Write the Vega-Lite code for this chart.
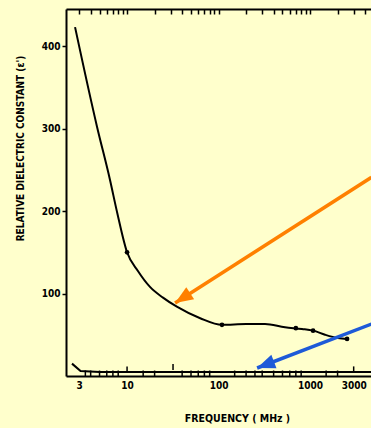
{
  "$schema": "https://vega.github.io/schema/vega-lite/v6.json",
  "width": 305,
  "height": 367,
  "autosize": {"type": "none"},
  "padding": {"left": 66, "top": 9, "right": 0, "bottom": 52},
  "background": "#FFFFCC",
  "config": {"view": {"stroke": null}, "font": "DejaVu Sans Condensed"},
  "datasets": {
    "main": [
      {"f": 2.7, "v": 423}, {"f": 4.7, "v": 302}, {"f": 6.5, "v": 238}, {"f": 7.8, "v": 198},
      {"f": 10, "v": 150}, {"f": 13.2, "v": 127}, {"f": 17.8, "v": 108}, {"f": 24.7, "v": 95}, {"f": 35, "v": 84}, {"f": 63, "v": 70},
      {"f": 109, "v": 62}, {"f": 200, "v": 63}, {"f": 322, "v": 63}, {"f": 533, "v": 59},
      {"f": 818, "v": 57}, {"f": 1080, "v": 55}, {"f": 1460, "v": 50}, {"f": 2020, "v": 46},
      {"f": 2540, "v": 45}
    ],
    "mainPts": [
      {"f": 10, "v": 150}, {"f": 109, "v": 62}, {"f": 700, "v": 58}, {"f": 1080, "v": 55}, {"f": 2540, "v": 45}
    ],
    "lower": [
      {"f": 2.5, "v": 15}, {"f": 3.1, "v": 6}, {"f": 5, "v": 5}, {"f": 10, "v": 5}, {"f": 100, "v": 5},
      {"f": 1000, "v": 5}, {"f": 4700, "v": 5}
    ],
    "lowerTicks": [
      {"f": 3.5, "v": 3}, {"f": 4, "v": 3}, {"f": 5, "v": 3}, {"f": 6, "v": 3}, {"f": 7, "v": 3},
      {"f": 8, "v": 3}, {"f": 10, "v": 8}, {"f": 15, "v": 3}, {"f": 20, "v": 3}, {"f": 31.8, "v": 11},
      {"f": 40, "v": 3}, {"f": 50, "v": 3}, {"f": 60, "v": 3}, {"f": 70, "v": 3}, {"f": 80, "v": 3},
      {"f": 150, "v": 3}, {"f": 200, "v": 3}, {"f": 250, "v": 3}, {"f": 300, "v": 3}, {"f": 400, "v": 3},
      {"f": 500, "v": 3}, {"f": 600, "v": 3}, {"f": 700, "v": 3}, {"f": 800, "v": 3}, {"f": 1500, "v": 3},
      {"f": 2000, "v": 3}, {"f": 3000, "v": 8}
    ],
    "arrows": [
      {"arrow": "orange", "f": 4700, "v": 241, "f2": 33.5, "v2": 88.5},
      {"arrow": "blue", "f": 4700, "v": 63, "f2": 264, "v2": 9.7}
    ]
  },
  "layer": [
    {
      "data": {"name": "main"},
      "mark": {"type": "line", "color": "black", "strokeWidth": 2, "interpolate": "monotone", "clip": true},
      "encoding": {
        "x": {"field": "f", "type": "quantitative",
          "scale": {"type": "log", "domain": [2.15, 4640], "nice": false},
          "axis": {"orient": "bottom", "values": [3, 10, 100, 1000, 3000], "format": "d", "grid": false,
            "domainColor": "black", "domainWidth": 2, "tickSize": 0, "labelPadding": 4,
            "labelFontSize": 10, "labelFontWeight": "bold", "labelColor": "black",
            "title": "FREQUENCY ( MHz )", "titleFontSize": 10.5, "titleFontWeight": "bold", "titleColor": "black",
            "titleX": 171, "titleY": 42, "titleBaseline": "middle"}},
        "y": {"field": "v", "type": "quantitative",
          "scale": {"domain": [0, 445], "nice": false},
          "axis": {"values": [100, 200, 300, 400], "grid": false,
            "domainColor": "black", "domainWidth": 2, "tickColor": "black", "tickSize": 4, "tickWidth": 1.5,
            "labelPadding": 2, "labelFontSize": 10, "labelFontWeight": "bold", "labelColor": "black",
            "title": "RELATIVE DIELECTRIC CONSTANT (ε')", "titleFontSize": 10, "titleFontWeight": "bold", "titleColor": "black",
            "titleX": -46, "titleY": 139, "titleAngle": -90, "titleBaseline": "middle", "titleAlign": "center"}}
      }
    },
    {
      "data": {"name": "main"},
      "mark": {"type": "line", "opacity": 0, "clip": true},
      "encoding": {
        "x": {"field": "f", "type": "quantitative",
          "axis": {"orient": "top", "values": [3,4,5,6,7,8,9,10,20,30,40,50,60,70,80,90,100,200,300,400,500,600,700,800,900,1000,2000,3000,4000],
            "labels": false, "title": null, "grid": false, "domainColor": "black", "domainWidth": 2,
            "tickColor": "black", "tickSize": -5, "tickWidth": 1.5}},
        "y": {"field": "v", "type": "quantitative"}
      }
    },
    {
      "data": {"name": "mainPts"},
      "mark": {"type": "point", "filled": true, "color": "black", "size": 22, "opacity": 1},
      "encoding": {
        "x": {"field": "f", "type": "quantitative", "axis": null},
        "y": {"field": "v", "type": "quantitative"}
      }
    },
    {
      "data": {"name": "lower"},
      "mark": {"type": "line", "color": "black", "strokeWidth": 2, "clip": true},
      "encoding": {
        "x": {"field": "f", "type": "quantitative", "axis": null},
        "y": {"field": "v", "type": "quantitative"}
      }
    },
    {
      "data": {"name": "lowerTicks"},
      "mark": {"type": "tick", "orient": "vertical", "color": "black", "size": 6, "thickness": 1.5, "opacity": 1},
      "encoding": {
        "x": {"field": "f", "type": "quantitative", "axis": null},
        "y": {"field": "v", "type": "quantitative"}
      }
    },
    {
      "data": {"name": "arrows"},
      "mark": {"type": "rule", "strokeWidth": 3.5, "clip": true},
      "encoding": {
        "x": {"field": "f", "type": "quantitative", "axis": null},
        "y": {"field": "v", "type": "quantitative"},
        "x2": {"field": "f2"},
        "y2": {"field": "v2"},
        "color": {"field": "arrow", "type": "nominal", "scale": {"domain": ["orange", "blue"], "range": ["#FF8000", "#1E5AD8"]}, "legend": null}
      }
    },
    {
      "data": {"name": "arrows"},
      "transform": [{"filter": "datum.arrow === 'orange'"}],
      "mark": {"type": "point", "filled": true, "opacity": 1, "shape": "M0,0L-0.8,2L0.8,2Z", "size": 324, "angle": 237, "color": "#FF8000"},
      "encoding": {
        "x": {"field": "f2", "type": "quantitative", "axis": null},
        "y": {"field": "v2", "type": "quantitative"}
      }
    },
    {
      "data": {"name": "arrows"},
      "transform": [{"filter": "datum.arrow === 'blue'"}],
      "mark": {"type": "point", "filled": true, "opacity": 1, "shape": "M0,0L-0.8,2L0.8,2Z", "size": 324, "angle": 249, "color": "#1E5AD8"},
      "encoding": {
        "x": {"field": "f2", "type": "quantitative", "axis": null},
        "y": {"field": "v2", "type": "quantitative"}
      }
    }
  ],
  "resolve": {"axis": {"x": "independent"}}
}
